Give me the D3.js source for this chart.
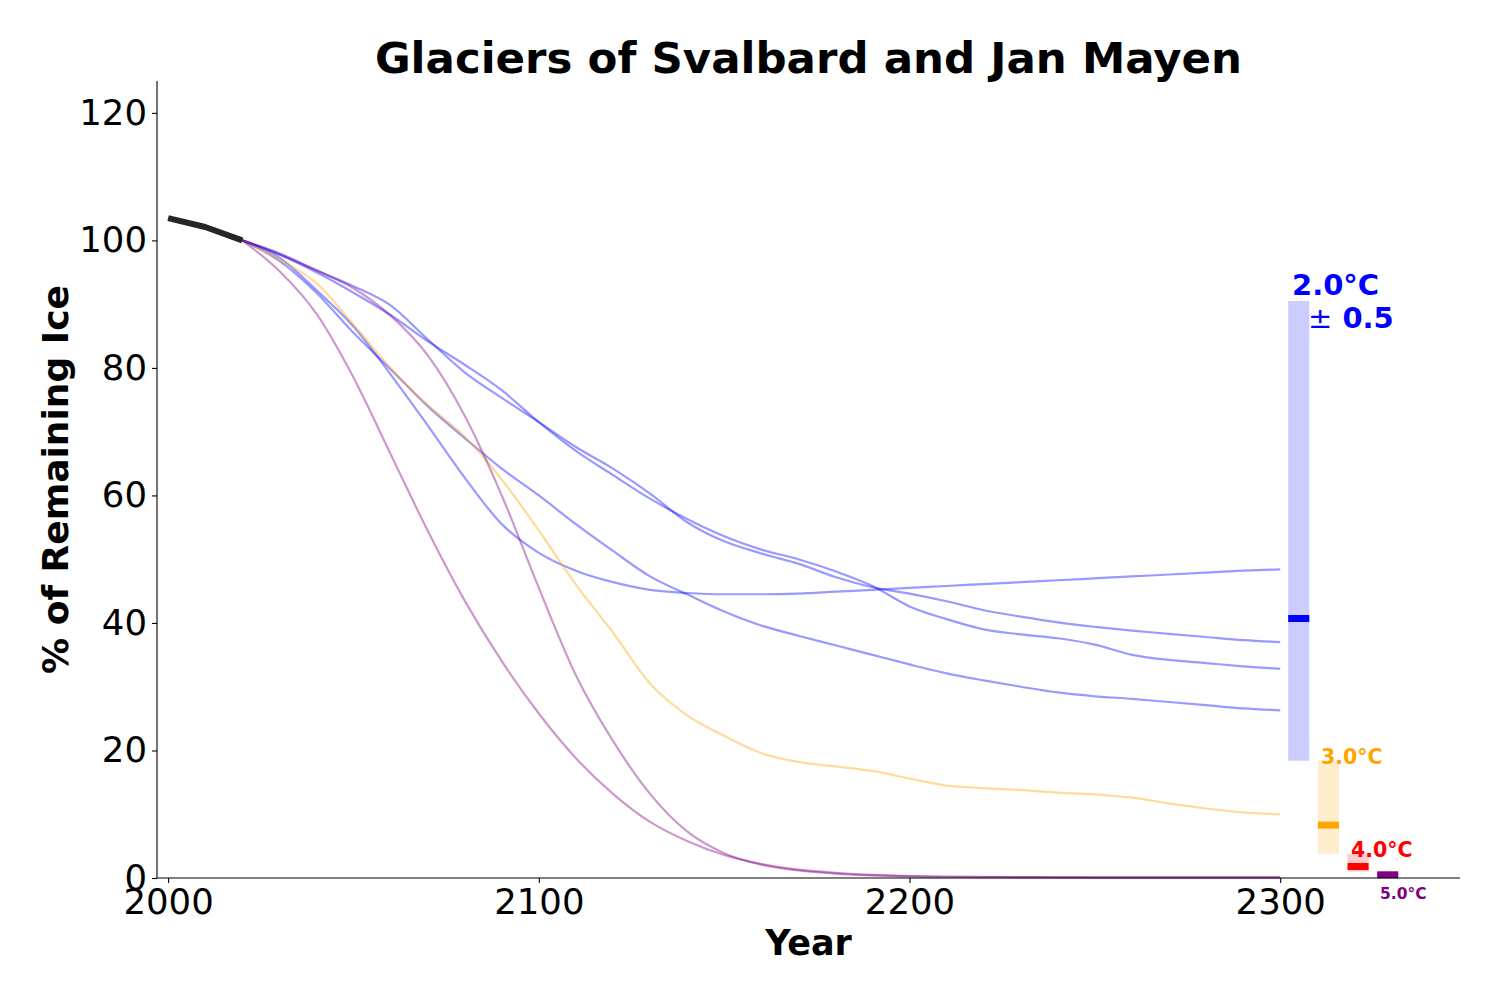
<!DOCTYPE html>
<html>
<head>
<meta charset="utf-8">
<script src="https://cdn.jsdelivr.net/npm/d3@7"></script>
<style>
  html, body { margin: 0; padding: 0; background: #fff; }
  svg { display: block; }
  text { font-family: "DejaVu Sans", sans-serif; }
</style>
</head>
<body>
<svg id="chart" width="1500" height="1000"></svg>
<script>
// ---------------- DATA ----------------
const histYears = [2000, 2010, 2020];
const histValues = [103.5, 102.1, 100];

const years = [2020, 2030, 2040, 2050, 2060, 2070, 2080, 2090, 2100, 2110, 2120, 2130, 2140, 2150,
  2160, 2170, 2180, 2190, 2200, 2210, 2220, 2230, 2240, 2250, 2260, 2270, 2280, 2290, 2300];

// 2.0°C scenario runs (blue)
const blueRunA = [100, 97.3, 92.2, 86.5, 79.0, 71.0, 62.8, 55.5, 51.0, 48.2, 46.4, 45.2, 44.7, 44.5,
  44.5, 44.6, 44.9, 45.2, 45.5, 45.8, 46.1, 46.4, 46.7, 47.0, 47.3, 47.6, 47.9, 48.2, 48.4];
const blueRunB = [100, 98.0, 95.3, 92.8, 89.8, 84.5, 79.3, 75.3, 71.5, 67.6, 64.2, 60.3, 55.8, 52.8,
  50.9, 49.3, 47.2, 45.6, 44.6, 43.4, 42.0, 41.0, 40.1, 39.4, 38.8, 38.3, 37.8, 37.3, 37.0];
const blueRunC = [100, 97.8, 95.0, 91.8, 88.3, 84.2, 80.5, 76.5, 71.5, 67.0, 63.2, 59.5, 56.3, 53.6,
  51.5, 50.0, 48.1, 45.8, 42.6, 40.6, 39.0, 38.2, 37.6, 36.6, 35.0, 34.2, 33.7, 33.2, 32.8];
const blueRunD = [100, 96.8, 91.8, 85.5, 79.8, 74.0, 69.0, 64.2, 60.0, 55.5, 51.3, 47.3, 44.5, 41.8,
  39.6, 38.0, 36.5, 35.0, 33.5, 32.1, 31.0, 30.0, 29.1, 28.5, 28.1, 27.6, 27.1, 26.6, 26.3];

// 3.0°C scenario run (orange)
const orangeRun = [100, 97.0, 93.3, 86.8, 80.0, 74.2, 69.2, 62.5, 54.5, 46.0, 38.5, 30.5, 25.5, 22.3,
  19.6, 18.2, 17.5, 16.8, 15.6, 14.5, 14.1, 13.8, 13.4, 13.1, 12.6, 11.7, 10.9, 10.3, 10.0];

// 5.0°C scenario runs (purple)
const purpleRunA = [100, 95.2, 88.5, 78.5, 66.5, 54.5, 43.5, 34.0, 25.8, 18.8, 13.2, 8.8, 5.8, 3.6,
  2.2, 1.3, 0.8, 0.5, 0.3, 0.2, 0.2, 0.15, 0.15, 0.1, 0.1, 0.1, 0.1, 0.1, 0.1];
const purpleRunB = [100, 97.8, 95.3, 92.5, 88.2, 82.0, 72.5, 60.0, 45.5, 31.8, 21.5, 13.2, 7.3, 3.9,
  2.1, 1.2, 0.7, 0.4, 0.25, 0.2, 0.15, 0.15, 0.1, 0.1, 0.1, 0.1, 0.1, 0.1, 0.1];

// 2300 summary bars per warming level
const barLabels = ["2.0°C", "3.0°C", "4.0°C", "5.0°C"];
const barYears = [2305, 2313, 2321, 2329];
const barLow = [18.4, 3.8, 1.0, 0.1];
const barHigh = [90.5, 18.4, 3.8, 1.0];
const barMedian = [40.7, 8.3, 1.8, 0.5];
const barSpread = "± 0.5";

const xTicks = [2000, 2100, 2200, 2300];
const yTicks = [0, 20, 40, 60, 80, 100, 120];

// ---------------- STYLE ----------------
const colors = { blue: "#0000ff", orange: "#ffa500", red: "#ff0000", purple: "#800080" };
const barColors = [colors.blue, colors.orange, colors.red, colors.purple];
const barFills = ["#ccccff", "#ffedcc", "#ffcccc", "#e6cce6"];

const svg = d3.select("#chart");
const L = 157, R = 1460, T = 81, B = 878;

const x = d3.scaleLinear().domain([1997, 2348.5]).range([L, R]);
const y = d3.scaleLinear().domain([0, 125]).range([B, T]);

// ---------------- LINES ----------------
const line = d3.line().x(d => x(d[0])).y(d => y(d[1])).curve(d3.curveMonotoneX);
const runs = [
  { v: blueRunA, c: colors.blue },
  { v: blueRunB, c: colors.blue },
  { v: blueRunC, c: colors.blue },
  { v: blueRunD, c: colors.blue },
  { v: orangeRun, c: colors.orange },
  { v: purpleRunA, c: colors.purple },
  { v: purpleRunB, c: colors.purple }
];
const gLines = svg.append("g");
runs.forEach(r => {
  gLines.append("path")
    .attr("d", line(years.map((yr, i) => [yr, r.v[i]])))
    .attr("fill", "none")
    .attr("stroke", r.c)
    .attr("stroke-opacity", 0.4)
    .attr("stroke-width", 2.2);
});
gLines.append("path")
  .attr("d", d3.line().x(d => x(d[0])).y(d => y(d[1]))(histYears.map((yr, i) => [yr, histValues[i]])))
  .attr("fill", "none")
  .attr("stroke", "#000")
  .attr("stroke-opacity", 0.85)
  .attr("stroke-width", 6)
  .attr("stroke-linejoin", "round");

// ---------------- BARS ----------------
const halfW = 2.85;
const gBars = svg.append("g");
barYears.forEach((yr, i) => {
  gBars.append("rect")
    .attr("x", x(yr - halfW))
    .attr("width", x(yr + halfW) - x(yr - halfW))
    .attr("y", y(barHigh[i]))
    .attr("height", y(barLow[i]) - y(barHigh[i]))
    .attr("fill", barFills[i]);
  gBars.append("line")
    .attr("x1", x(yr - halfW)).attr("x2", x(yr + halfW))
    .attr("y1", y(barMedian[i])).attr("y2", y(barMedian[i]))
    .attr("stroke", barColors[i])
    .attr("stroke-width", 7);
});

// Bar labels
const lab = svg.append("g").attr("font-weight", "bold");
lab.append("text").attr("x", 1292).attr("y", 295).attr("font-size", 29)
  .attr("fill", colors.blue).text(barLabels[0]);
const t2 = lab.append("text").attr("x", 1308).attr("y", 328).attr("font-size", 29).attr("fill", colors.blue);
t2.append("tspan").attr("font-weight", "normal").text(barSpread.slice(0, 1));
t2.append("tspan").text(barSpread.slice(1));
lab.append("text").attr("x", 1321).attr("y", 764).attr("font-size", 20.5)
  .attr("fill", colors.orange).text(barLabels[1]);
lab.append("text").attr("x", 1351).attr("y", 857).attr("font-size", 20.5)
  .attr("fill", colors.red).text(barLabels[2]);
lab.append("text").attr("x", 1380).attr("y", 899).attr("font-size", 15.5)
  .attr("fill", colors.purple).text(barLabels[3]);

// ---------------- AXES ----------------
const xAxis = svg.append("g").attr("transform", `translate(0,${B})`)
  .call(d3.axisBottom(x).tickValues(xTicks).tickFormat(d3.format("d")).tickSize(5).tickPadding(6));
const yAxis = svg.append("g").attr("transform", `translate(${L},0)`)
  .call(d3.axisLeft(y).tickValues(yTicks).tickFormat(d3.format("d")).tickSize(5).tickPadding(5));
[xAxis, yAxis].forEach(a => {
  a.select(".domain").attr("stroke", "#000").attr("stroke-width", 1.1);
  a.selectAll(".tick line").attr("stroke", "#000").attr("stroke-width", 1.1);
  a.selectAll(".tick text").attr("font-family", "DejaVu Sans").attr("font-size", 35.5).attr("fill", "#000");
});
xAxis.select(".domain").attr("d", `M${L},0H${R}`);
yAxis.select(".domain").attr("d", `M0,${T}V${B}`);

// Titles
svg.append("text").attr("x", (L + R) / 2).attr("y", 73).attr("text-anchor", "middle")
  .attr("font-size", 43.5).attr("font-weight", "bold").text("Glaciers of Svalbard and Jan Mayen");
svg.append("text").attr("x", (L + R) / 2).attr("y", 955).attr("text-anchor", "middle")
  .attr("font-size", 35).attr("font-weight", "bold").text("Year");
svg.append("text").attr("transform", `translate(68,${(T + B) / 2}) rotate(-90)`)
  .attr("text-anchor", "middle").attr("font-size", 36).attr("font-weight", "bold")
  .text("% of Remaining Ice");
</script>
</body>
</html>
